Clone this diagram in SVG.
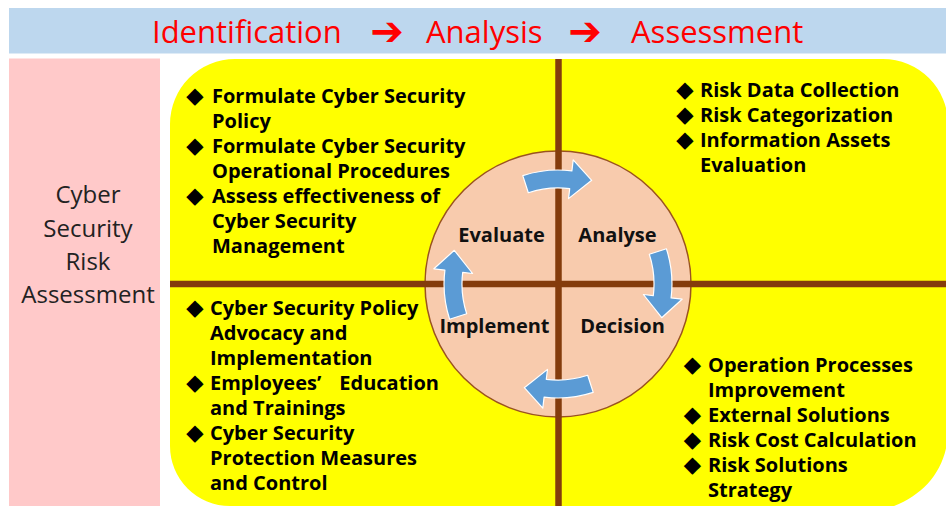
<svg xmlns="http://www.w3.org/2000/svg" xmlns:xlink="http://www.w3.org/1999/xlink" width="946" height="506" viewBox="0 0 946 506">
  <style>
    .hdr { font-family: "Open Sans", "Liberation Sans", sans-serif; font-size: 31px; fill: #FF0000; }
    .harrow { font-family: "DejaVu Sans", sans-serif; font-size: 40px; font-weight: 700; fill: #FF0000; text-anchor: middle; }
    .side { font-family: "Open Sans", "Liberation Sans", sans-serif; font-size: 24px; fill: #222222; text-anchor: middle; }
    .q { font-family: "Open Sans", "Liberation Sans", sans-serif; font-size: 20px; font-weight: 700; fill: #000000; }
    .bul { font-family: "DejaVu Sans", sans-serif; font-size: 22.5px; fill: #000000; text-anchor: middle; }
    .stage { font-family: "Open Sans", "Liberation Sans", sans-serif; font-size: 20px; font-weight: 700; fill: #111111; text-anchor: middle; }
    .cross { stroke: #843C0C; stroke-width: 6.5; }
    .cyc { fill: #5B9BD5; stroke: #FFFFFF; stroke-width: 1.2; stroke-linejoin: round; }
  </style>
  <defs>
    <!-- curved block arrow on the ring, pointing clockwise across the top -->
    <path id="cycArrow" d="M 522.8,175.6 A 114 114 0 0 1 571.9,170.9 L 573.2,159.9 L 591.7,180.3 L 568.5,198.6 L 569.7,188.7 A 96 96 0 0 0 528.3,192.7 Z"/>
  </defs>

  <rect width="946" height="506" fill="#FFFFFF"/>

  <!-- process banner -->
  <g id="banner">
    <rect x="9" y="8" width="937" height="45.5" fill="#BDD7EE"/>
    <text class="hdr" x="152" y="43">Identification</text>
    <text class="harrow" x="387" y="44.5">➔</text>
    <text class="hdr" x="426" y="43">Analysis</text>
    <text class="harrow" x="585" y="44.5">➔</text>
    <text class="hdr" x="631" y="43">Assessment</text>
  </g>

  <!-- side title -->
  <g id="side-title">
    <rect x="9" y="58.5" width="151" height="447.5" fill="#FFC9C9"/>
    <text class="side" x="88" y="203">Cyber</text>
    <text class="side" x="88" y="237">Security</text>
    <text class="side" x="88" y="270">Risk</text>
    <text class="side" x="88" y="303">Assessment</text>
  </g>

  <!-- yellow field -->
  <g id="field">
    <path d="M 235,59 H 883 A 65 65 0 0 1 948,124 V 430 C 948,475 915,506 870,512 H 230 V 506 A 60 60 0 0 1 170,446 V 124 A 65 65 0 0 1 235,59 Z" fill="#FFFF00"/>
  </g>

  <!-- central ring -->
  <g id="ring">
    <circle cx="558" cy="284" r="133" fill="#F8CBAD" stroke="#9A5320" stroke-width="1.5"/>
  </g>

  <!-- quadrant axes -->
  <g id="axes">
    <line class="cross" x1="558.5" y1="59" x2="558.5" y2="506"/>
    <line class="cross" x1="170" y1="284" x2="946" y2="284"/>
  </g>

  <!-- cycle connectors -->
  <g id="connectors">
    <use xlink:href="#cycArrow" href="#cycArrow" class="cyc"/>
    <use xlink:href="#cycArrow" href="#cycArrow" class="cyc" transform="rotate(90 558 284)"/>
    <use xlink:href="#cycArrow" href="#cycArrow" class="cyc" transform="rotate(180 558 284)"/>
    <use xlink:href="#cycArrow" href="#cycArrow" class="cyc" transform="rotate(270 558 284)"/>
  </g>

  <!-- cycle stages -->
  <g id="stage-evaluate"><text class="stage" x="501.5" y="242">Evaluate</text></g>
  <g id="stage-analyse"><text class="stage" x="617.5" y="242">Analyse</text></g>
  <g id="stage-implement"><text class="stage" x="494.5" y="333">Implement</text></g>
  <g id="stage-decision"><text class="stage" x="622.5" y="333">Decision</text></g>

  <!-- evaluate quadrant -->
  <g id="quad-evaluate">
    <text class="bul" x="195" y="103">◆</text>
    <text class="q" x="212" y="103">Formulate Cyber Security</text>
    <text class="q" x="212" y="128">Policy</text>
    <text class="bul" x="195" y="153">◆</text>
    <text class="q" x="212" y="153">Formulate Cyber Security</text>
    <text class="q" x="212" y="178">Operational Procedures</text>
    <text class="bul" x="195" y="203">◆</text>
    <text class="q" x="212" y="203">Assess effectiveness of</text>
    <text class="q" x="212" y="228">Cyber Security</text>
    <text class="q" x="212" y="253">Management</text>
  </g>

  <!-- analyse quadrant -->
  <g id="quad-analyse">
    <text class="bul" x="685" y="97">◆</text>
    <text class="q" x="700" y="97">Risk Data Collection</text>
    <text class="bul" x="685" y="122">◆</text>
    <text class="q" x="700" y="122">Risk Categorization</text>
    <text class="bul" x="685" y="147">◆</text>
    <text class="q" x="700" y="147">Information Assets</text>
    <text class="q" x="700" y="172">Evaluation</text>
  </g>

  <!-- implement quadrant -->
  <g id="quad-implement">
    <text class="bul" x="195" y="315">◆</text>
    <text class="q" x="210" y="315">Cyber Security Policy</text>
    <text class="q" x="210" y="340">Advocacy and</text>
    <text class="q" x="210" y="365">Implementation</text>
    <text class="bul" x="195" y="390">◆</text>
    <text class="q" x="210" y="390">Employees’<tspan dx="18">Education</tspan></text>
    <text class="q" x="210" y="415">and Trainings</text>
    <text class="bul" x="195" y="440">◆</text>
    <text class="q" x="210" y="440">Cyber Security</text>
    <text class="q" x="210" y="465">Protection Measures</text>
    <text class="q" x="210" y="490">and Control</text>
  </g>

  <!-- decision quadrant -->
  <g id="quad-decision">
    <text class="bul" x="692.5" y="372">◆</text>
    <text class="q" x="708" y="372">Operation Processes</text>
    <text class="q" x="708" y="397">Improvement</text>
    <text class="bul" x="692.5" y="422">◆</text>
    <text class="q" x="708" y="422">External Solutions</text>
    <text class="bul" x="692.5" y="447">◆</text>
    <text class="q" x="708" y="447">Risk Cost Calculation</text>
    <text class="bul" x="692.5" y="472">◆</text>
    <text class="q" x="708" y="472">Risk Solutions</text>
    <text class="q" x="708" y="497">Strategy</text>
  </g>
</svg>
